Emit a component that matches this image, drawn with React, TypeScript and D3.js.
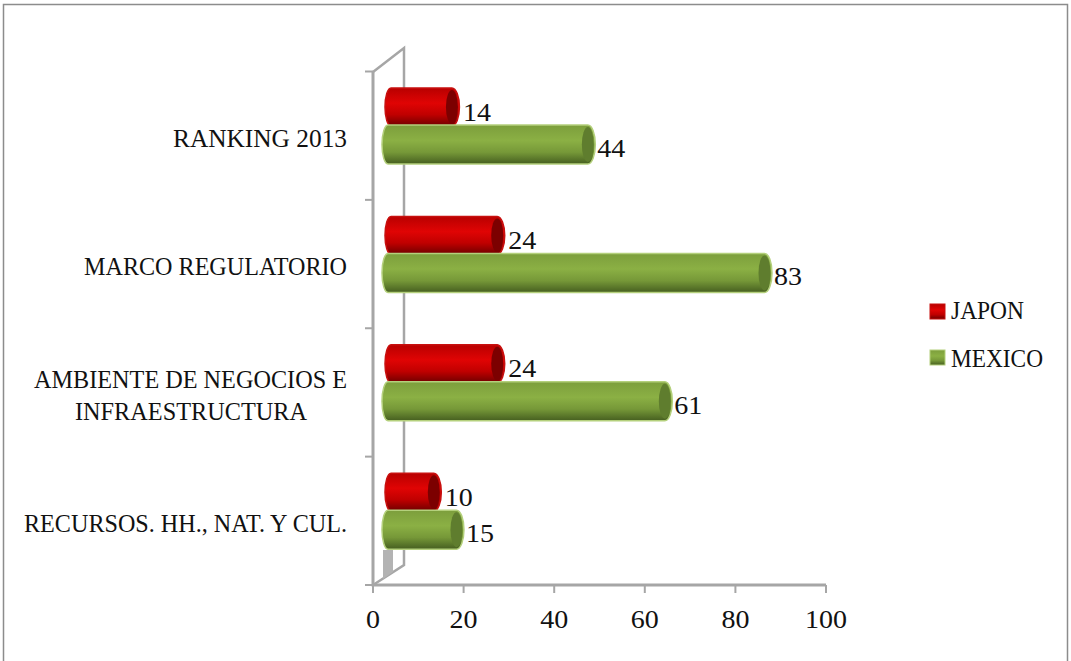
import React from "react";
import * as d3 from "d3";

const categories = ["RANKING 2013", "MARCO REGULATORIO", "AMBIENTE DE NEGOCIOS E|INFRAESTRUCTURA", "RECURSOS. HH., NAT. Y CUL."];
const japon = [14, 24, 24, 10];
const mexico = [44, 83, 61, 15];
const ticks = [0, 20, 40, 60, 80, 100];
const seriesNames = ["JAPON", "MEXICO"];
const textWidths: Record<string, number> = {
  "RANKING 2013": 174, "MARCO REGULATORIO": 263, "AMBIENTE DE NEGOCIOS E": 313,
  "INFRAESTRUCTURA": 232, "RECURSOS. HH., NAT. Y CUL.": 323, "JAPON": 73, "MEXICO": 92,
};

const W = 1071, H = 661;
const FONT = "'Liberation Serif', serif";
const FS = 26;
const x = d3.scaleLinear().domain([0, 100]).range([373, 826]);
const y = d3.scaleBand<string>().domain(categories).range([71.5, 585]);
const series = d3.scaleBand<string>().domain(seriesNames).range([0, 76]);
const gray = "#a6a6a6";

function Label({ t, x: px, y: py, anchor }: { t: string; x: number; y: number; anchor?: string }) {
  const w = textWidths[t];
  return (
    <text x={px} y={py} textAnchor={anchor || "start"} fontFamily={FONT} fontSize={FS} fill="#111"
      textLength={w} lengthAdjust="spacingAndGlyphs">{t}</text>
  );
}

function Num({ v, x: px, y: py, anchor }: { v: number; x: number; y: number; anchor?: string }) {
  return (
    <text x={px} y={py} textAnchor={anchor || "start"} fontFamily={FONT} fontSize={FS} fill="#111"
      textLength={String(v).length * 14} lengthAdjust="spacingAndGlyphs">{v}</text>
  );
}

function Bar({ v, cat, name }: { v: number; cat: string; name: string }) {
  const isJ = name === "JAPON";
  const top = (y(cat) as number) + 16.5 + (series(name) as number) + (isJ ? 0 : -1);
  const h = isJ ? 38 : 39;
  const x0 = isJ ? 385 : 382;
  const rx = 7.5;
  const x1 = x(v) + 23;
  const d = `M${x0 + 6},${top} L${x1 - rx},${top} A${rx},${h / 2} 0 0 1 ${x1 - rx},${top + h} L${x0 + 6},${top + h} A6,${h / 2} 0 0 1 ${x0 + 6},${top} Z`;
  return (
    <g>
      <path d={d} fill={`url(#${isJ ? "red" : "green"})`} stroke={isJ ? "#c8100f" : "#b4d07c"} strokeWidth={1.5} />
      <ellipse cx={x1 - rx} cy={top + h / 2} rx={rx - 1.5} ry={h / 2 - 2} fill={isJ ? "#7c0000" : "#5f7d2e"} />
      <Num v={v} x={x1 + (isJ ? 3.5 : 2)} y={top + h / 2 + (isJ ? 13.5 : 12.5)} />
    </g>
  );
}

export default function App() {
  return (
    <svg width={W} height={H} style={{ position: "absolute", left: 0, top: 0, background: "#fff" }}>
      <defs>
        <linearGradient id="red" x1="0" y1="0" x2="0" y2="1">
          <stop offset="0" stopColor="#b80000" />
          <stop offset="0.4" stopColor="#e00404" />
          <stop offset="0.7" stopColor="#c00000" />
          <stop offset="1" stopColor="#6e0000" />
        </linearGradient>
        <linearGradient id="green" x1="0" y1="0" x2="0" y2="1">
          <stop offset="0" stopColor="#7c9e3c" />
          <stop offset="0.4" stopColor="#8bb044" />
          <stop offset="0.7" stopColor="#769838" />
          <stop offset="1" stopColor="#465f20" />
        </linearGradient>
      </defs>
      <path d="M3.5,661 V4.5 H1067.5 V661" fill="none" stroke="#8c8c8c" strokeWidth={1.5} />

      <path d={`M${x(0)},72 L404,48 V565 L${x(0)},585`} fill="none" stroke={gray} strokeWidth={2.5} />
      <polygon points="383,550 393,550 393,572 383,579" fill="#b3b3b3" />
      <path d={`M${x(0)},72 V585 H826`} fill="none" stroke={gray} strokeWidth={3} />
      {[...categories.map(c => y(c) as number), 585].map((t, i) => (
        <line key={i} x1={365} x2={x(0)} y1={t} y2={t} stroke={gray} strokeWidth={2} />
      ))}
      {ticks.map(t => (
        <g key={t}>
          <line x1={x(t)} x2={x(t)} y1={585} y2={593} stroke={gray} strokeWidth={2} />
          <Num v={t} x={x(t)} y={628} anchor="middle" />
        </g>
      ))}

      {categories.map((c, i) => (
        <g key={c}>
          <Bar v={japon[i]} cat={c} name="JAPON" />
          <Bar v={mexico[i]} cat={c} name="MEXICO" />
        </g>
      ))}

      {categories.map(c => {
        const parts = c.split("|");
        const cy = (y(c) as number) + y.bandwidth() / 2 + 11;
        if (parts.length === 1) return <Label key={c} t={c} x={347} y={cy} anchor="end" />;
        return (
          <g key={c}>
            <Label t={parts[0]} x={347} y={cy - 15} anchor="end" />
            <Label t={parts[1]} x={191} y={cy + 17} anchor="middle" />
          </g>
        );
      })}

      {seriesNames.map((n, i) => (
        <g key={n}>
          <rect x={930} y={304 + i * 46} width={15} height={15} fill={`url(#${i ? "green" : "red"})`} stroke={i ? "#b4d07c" : "#c8100f"} />
          <Label t={n} x={951} y={319 + i * 48} />
        </g>
      ))}
    </svg>
  );
}
